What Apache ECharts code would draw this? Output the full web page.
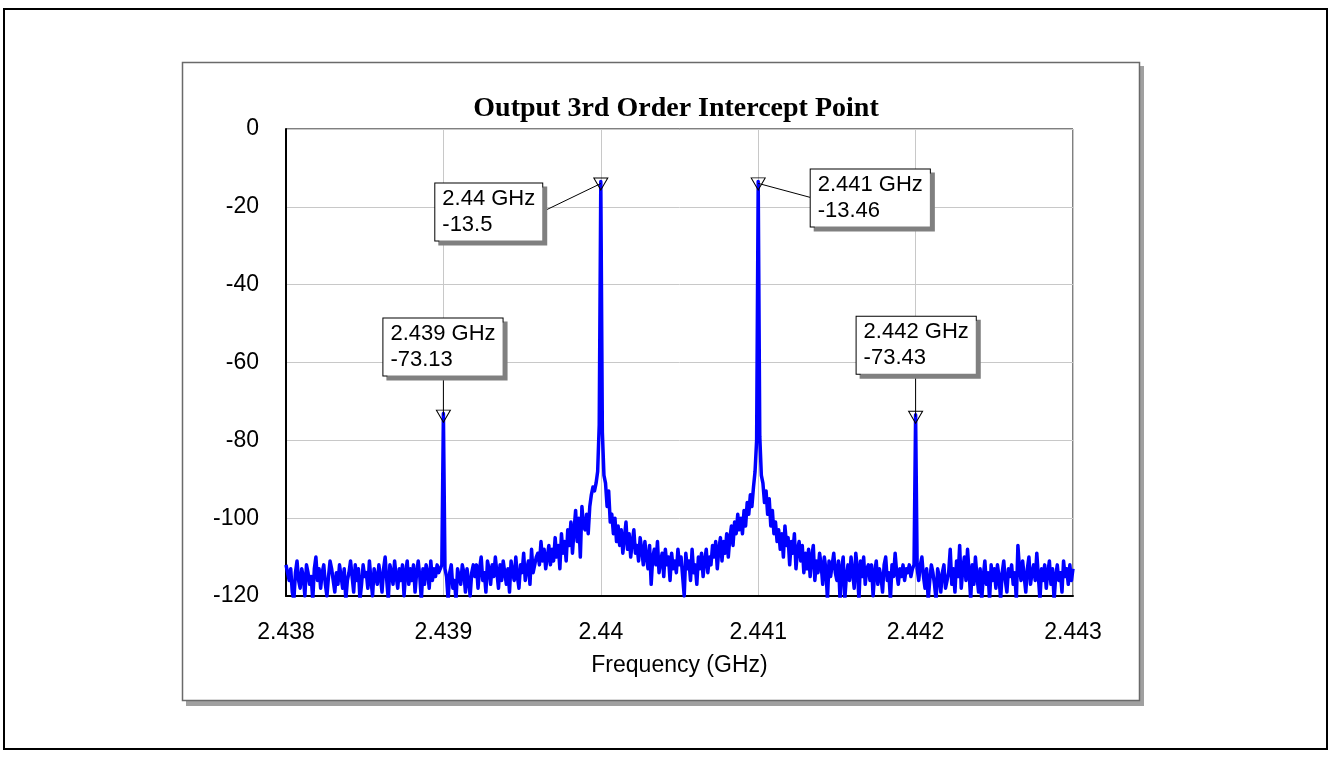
<!DOCTYPE html>
<html>
<head>
<meta charset="utf-8">
<title>Output 3rd Order Intercept Point</title>
<script src="https://cdn.jsdelivr.net/npm/echarts@6/dist/echarts.min.js"></script>
<style>
  html, body { margin: 0; padding: 0; background: #fff; }
  #main { width: 1331px; height: 758px; }
</style>
</head>
<body>
<div id="main"></div>
<script>
// Spectrum sweep: 2.438 – 2.443 GHz in 10 kHz steps (501 samples), levels in dBm
const sweepStartGHz = 2.438;
const sweepStepGHz = 0.00001;

// Marker readouts (tones and 3rd-order products)
const markerFreqs = [2.439, 2.44, 2.441, 2.442];
const markerLevels = [-73.13, -13.5, -13.46, -73.43];

// Axis ticks
const freqTicks = [2.438, 2.439, 2.44, 2.441, 2.442, 2.443];
const levelTicks = [-120, -100, -80, -60, -40, -20, 0];

// 2.43800 – 2.43899 GHz
const bandA = [
  -112, -114, -116, -113, -119, -121, -114, -111, -116, -118, -113, -115, -120, -112, -114, -117, -115, -121, -113, -110,
  -116, -113, -118, -114, -112, -117, -120, -115, -111, -113, -116, -119, -114, -117, -112, -115, -118, -113, -121, -116,
  -114, -111, -115, -119, -112, -116, -113, -121, -117, -112, -115, -114, -118, -111, -116, -120, -113, -115, -117, -112,
  -115, -119, -113, -110, -116, -121, -112, -114, -117, -111, -115, -118, -113, -116, -112, -120, -114, -111, -117, -113,
  -116, -112, -119, -114, -111, -115, -121, -113, -117, -112, -114, -118, -111, -116, -113, -115, -112, -114, -113, -112
];
// 2.43901 – 2.43999 GHz (rising skirt of the lower tone)
const bandB = [
  -113, -115, -121, -114, -112, -118, -116, -121, -113, -115, -117, -112, -114, -119, -113, -116, -120, -114, -112,
  -115, -112, -118, -113, -110, -116, -114, -119, -111, -113, -117, -112, -115, -110, -114, -118, -112, -116, -111, -114,
  -117, -113, -119, -111, -114, -116, -110, -115, -118, -112, -114, -109, -116, -113, -111, -117, -108, -114, -112, -110,
  -109, -112, -106, -111, -108, -113, -110, -107, -112, -108, -111, -105, -110, -107, -113, -104, -109, -106, -111, -103,
  -107, -101, -109, -103, -98, -106, -100, -110, -97, -102,
  -103, -99, -104, -97, -94, -92, -93, -91, -88, -76
];
// 2.44001 – 2.44099 GHz (between the two tones)
const bandC = [
  -78, -89, -91, -97, -93, -101, -99, -104, -100, -106,
  -102, -107, -103, -109, -105, -101, -108, -104, -110, -106, -103, -109, -107, -111, -105, -108, -112, -106, -110,
  -113, -107, -117, -110, -108, -112, -106, -114, -111, -109, -115, -108, -112, -110, -116, -109, -113, -111, -114, -108,
  -112, -110, -115, -120, -109, -113, -111, -116, -108, -114, -112, -117, -110, -113, -109, -115, -111, -108, -114, -110,
  -112, -107, -110, -106, -113, -108, -105, -111, -106, -109, -104, -110, -105, -102, -107, -101, -104, -99, -103, -100,
  -104, -98, -102, -96, -99, -94, -97, -92, -88, -80
];
// 2.44101 – 2.44199 GHz (falling skirt of the upper tone)
const bandD = [
  -79, -89, -91, -96, -93, -99, -95, -102, -98, -104,
  -101, -106, -103, -108, -104, -110, -102, -107, -105, -112, -106, -109, -104, -113, -108, -106, -111, -107, -114, -109,
  -113, -108, -115, -110, -107, -116, -111, -114, -109, -112, -117, -110, -113, -121, -111, -115, -112, -109, -114, -116,
  -111, -121, -113, -110, -121, -115, -112, -116, -110, -114, -118, -109, -113, -121, -111, -115, -110, -117, -113, -112,
  -116, -112, -120, -114, -111, -117, -113, -115, -119, -112, -110, -116, -114, -121, -112, -115, -109, -114, -117, -113,
  -115, -112, -116, -113, -114, -112, -115, -113, -112
];
// 2.44201 – 2.44300 GHz
const bandE = [
  -113, -116, -112, -110, -115, -118, -113, -121, -116, -112, -114, -117, -121, -113, -115, -119, -114, -112, -118, -116,
  -114, -108, -117, -113, -119, -111, -115, -107, -118, -113, -110, -116, -108, -114, -121, -112, -117, -110, -115, -119,
  -113, -121, -115, -111, -117, -114, -121, -112, -116, -113, -118, -112, -115, -121, -114, -111, -116, -119, -113, -115,
  -112, -117, -114, -121, -107, -113, -116, -111, -115, -119, -113, -110, -117, -114, -112, -116, -109, -115, -121, -113,
  -116, -112, -118, -114, -111, -117, -113, -121, -115, -112, -116, -114, -119, -111, -115, -113, -117, -112, -116, -113
];

// Full trace: noise bands joined by the four marker peaks
const sweepLevels = [].concat(
  bandA, [markerLevels[0]],
  bandB, [markerLevels[1]],
  bandC, [markerLevels[2]],
  bandD, [markerLevels[3]],
  bandE
);
const sweepData = sweepLevels.map((v, i) => [sweepStartGHz + i * sweepStepGHz, v]);

// Readout box placement (box left edge / vertical centre offset from marker, leader end offset)
const readoutLayout = [
  { offset: [-60, -69], leader: [0, -39] },
  { offset: [-165.5, 28], leader: [-58, 30] },
  { offset: [52.5, 14], leader: [52, 16] },
  { offset: [-59, -72], leader: [0, -41] }
];

const SANS = '"Liberation Sans", Arial, sans-serif';
const SERIF = '"Liberation Serif", "Times New Roman", serif';

const fmtFreq = v => String(parseFloat(v.toFixed(3)));

const chart = echarts.init(document.getElementById('main'), null, { renderer: 'canvas' });

chart.setOption({
  animation: false,
  backgroundColor: '#fff',
  title: {
    text: 'Output 3rd Order Intercept Point',
    left: 676,
    top: 95,
    padding: 0,
    textAlign: 'center',
    textStyle: { fontFamily: SERIF, fontWeight: 'bold', fontSize: 28, color: '#000' }
  },
  grid: {
    left: 286, top: 129, width: 787, height: 467,
    show: true, backgroundColor: '#fff', borderColor: '#000', borderWidth: 1,
    containLabel: false
  },
  xAxis: {
    type: 'value',
    min: freqTicks[0], max: freqTicks[freqTicks.length - 1], interval: 0.001,
    name: 'Frequency (GHz)',
    nameLocation: 'middle',
    nameGap: 58,
    nameTextStyle: { fontFamily: SANS, fontSize: 23, color: '#000' },
    axisLine: { show: true, onZero: false, lineStyle: { color: '#000', width: 2 } },
    axisTick: { show: false },
    axisLabel: { fontFamily: SANS, fontSize: 23, color: '#000', margin: 25, formatter: fmtFreq },
    splitLine: { show: true, lineStyle: { color: '#c8c8c8', width: 1 } }
  },
  yAxis: {
    type: 'value',
    min: levelTicks[0], max: levelTicks[levelTicks.length - 1], interval: 20,
    axisLine: { show: true, onZero: false, lineStyle: { color: '#000', width: 2 } },
    axisTick: { show: false },
    axisLabel: { fontFamily: SANS, fontSize: 23, color: '#000', margin: 27, padding: [10, 0, 0, 0] },
    splitLine: { show: true, lineStyle: { color: '#c8c8c8', width: 1 } }
  },
  series: [
    {
      name: 'Output spectrum',
      type: 'line',
      data: sweepData,
      showSymbol: false,
      symbol: 'none',
      clip: true,
      z: 2,
      lineStyle: { color: '#0000ff', width: 3.5, join: 'round' }
    },
    {
      name: 'Markers',
      type: 'scatter',
      z: 4,
      data: markerFreqs.map((f, i) => ({
        value: [f, markerLevels[i]],
        label: { offset: readoutLayout[i].offset }
      })),
      symbol: 'path://M0,0 L14,0 L7,12 Z',
      symbolSize: [14, 12],
      symbolOffset: [0, 2.5],
      itemStyle: { color: 'rgba(255,255,255,0)', borderColor: '#000', borderWidth: 1, opacity: 1 },
      label: {
        show: true,
        position: 'inside',
        formatter: p => fmtFreq(p.value[0]) + ' GHz\n' + p.value[1],
        fontFamily: SANS,
        fontSize: 22,
        lineHeight: 26,
        color: '#000',
        opacity: 1,
        align: 'left',
        verticalAlign: 'middle',
        backgroundColor: '#fff',
        borderColor: '#000',
        borderWidth: 1,
        padding: [3, 7, 2, 7],
        shadowColor: '#808080',
        shadowBlur: 0,
        shadowOffsetX: 4,
        shadowOffsetY: 4
      },
      emphasis: { disabled: true }
    }
  ]
});

// Frame, panel and leader lines
const leaderLines = markerFreqs.map((f, i) => {
  const p = chart.convertToPixel({ gridIndex: 0 }, [f, markerLevels[i]]);
  const d = readoutLayout[i].leader;
  return {
    type: 'line',
    z: 3,
    silent: true,
    shape: { x1: p[0] + d[0], y1: p[1] + d[1], x2: p[0], y2: p[1] + 2 },
    style: { stroke: '#000', lineWidth: 1 }
  };
});

chart.setOption({
  graphic: [
    { type: 'rect', z: -30, silent: true,
      shape: { x: 4, y: 9, width: 1323, height: 740 },
      style: { fill: '#fff', stroke: '#000', lineWidth: 2 } },
    { type: 'rect', z: -29, silent: true,
      shape: { x: 186, y: 66, width: 958, height: 640 },
      style: { fill: '#a0a0a0' } },
    { type: 'rect', z: -28, silent: true,
      shape: { x: 182.5, y: 62.5, width: 957, height: 638 },
      style: { fill: '#fff', stroke: '#6a6a6a', lineWidth: 1.5 } }
  ].concat(leaderLines)
});
</script>
</body>
</html>
